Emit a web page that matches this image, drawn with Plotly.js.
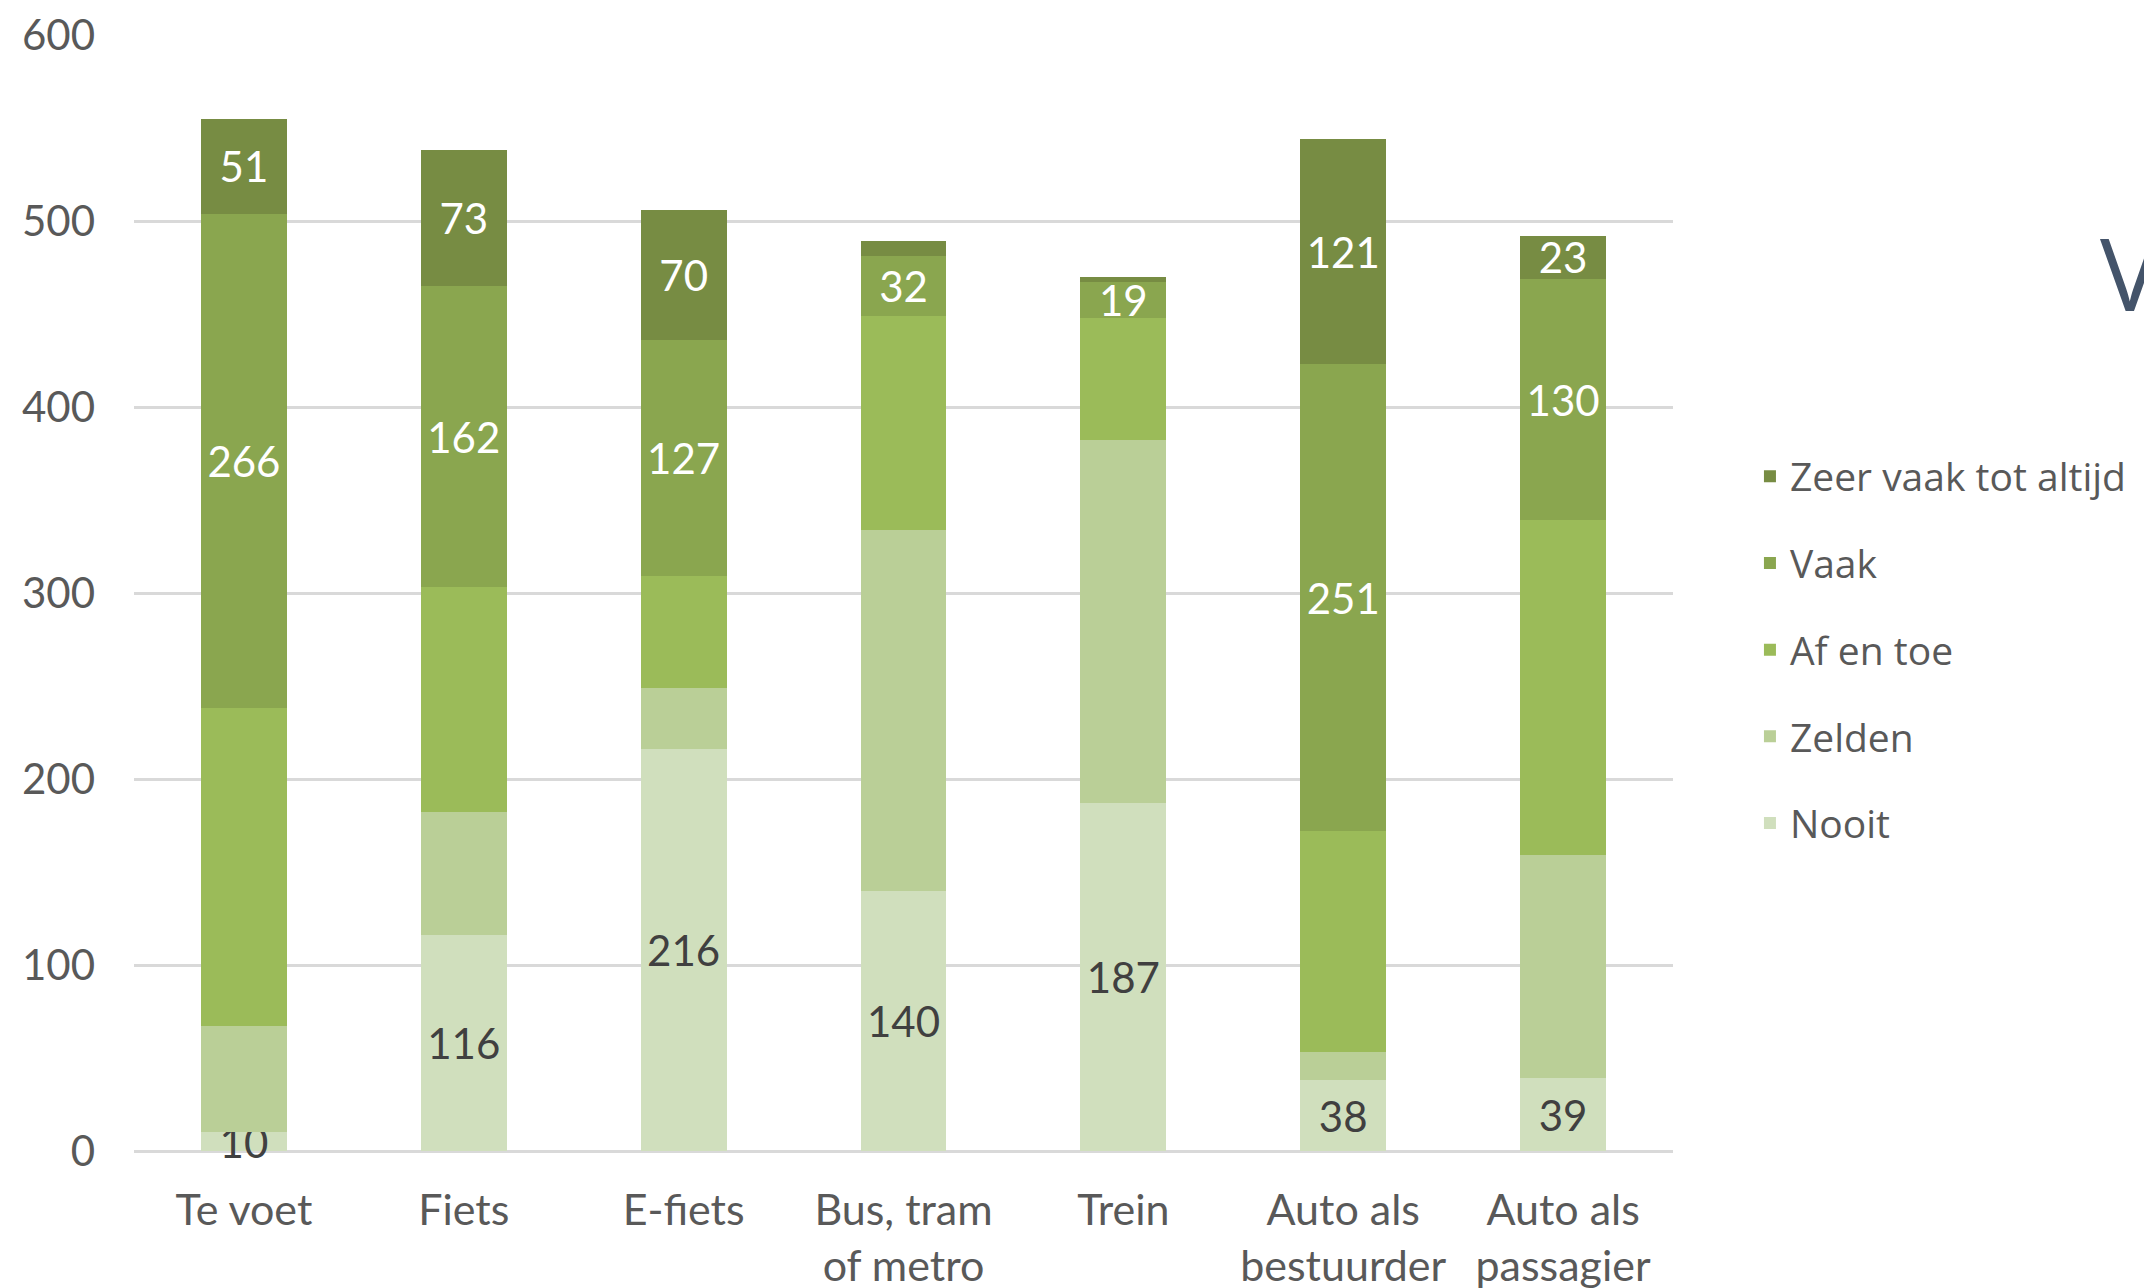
<!DOCTYPE html>
<html>
<head>
<meta charset="utf-8">
<script src="https://cdn.plot.ly/plotly-3.0.1.min.js"></script>
<style>html,body{margin:0;padding:0;background:#fff;}#chart{width:2144px;height:1288px;}</style>
</head>
<body>
<div id="chart"></div>
<script>
// Categories (x axis)
const categories = ["Te voet", "Fiets", "E-fiets", "Bus, tram<br>of metro", "Trein", "Auto als<br>bestuurder", "Auto als<br>passagier"];

// Series values (bottom to top of each stack)
const nooit      = [10, 116, 216, 140, 187, 38, 39];
const zelden     = [57, 66, 33, 194, 195, 15, 120];
const afEnToe    = [171, 121, 60, 115, 66, 119, 180];
const vaak       = [266, 162, 127, 32, 19, 251, 130];
const zeerVaak   = [51, 73, 70, 8, 3, 121, 23];

// Which segments carry a visible data label
const showNooit    = [true, true, true, true, true, true, true];
const showZelden   = [false, false, false, false, false, false, false];
const showAfEnToe  = [false, false, false, false, false, false, false];
const showVaak     = [true, true, true, true, true, true, true];
const showZeerVaak = [true, true, true, false, false, true, true];

const seriesNames = ["Nooit", "Zelden", "Af en toe", "Vaak", "Zeer vaak tot altijd"];
const seriesValues = [nooit, zelden, afEnToe, vaak, zeerVaak];
const seriesShow = [showNooit, showZelden, showAfEnToe, showVaak, showZeerVaak];
const seriesColors = ["#d0dfbd", "#bacf97", "#9bbb59", "#8aa64f", "#778c43"];
const labelColors = ["#404040", "#404040", "#ffffff", "#ffffff", "#ffffff"];

const yTicks = [0, 100, 200, 300, 400, 500, 600];

const traces = seriesNames.map((name, i) => ({
  type: "bar",
  name: name,
  legendgroup: "g" + i,
  legendrank: seriesNames.length - i,
  x: categories,
  y: seriesValues[i],
  text: seriesValues[i].map((v, j) => seriesShow[i][j] ? String(v) : ""),
  textposition: "inside",
  insidetextanchor: "middle",
  constraintext: "none",
  textangle: 0,
  cliponaxis: false,
  textfont: {family: "Lato, 'Noto Sans', sans-serif", size: 42, color: labelColors[i]},
  marker: {color: seriesColors[i], line: {width: 0}},
  hoverinfo: "x+y+name"
}));

const layout = {
  width: 2144,
  height: 1288,
  paper_bgcolor: "#ffffff",
  plot_bgcolor: "#ffffff",
  barmode: "stack",
  bargap: 0.61,
  margin: {l: 134, r: 471, t: 35, b: 137, pad: 0},
  font: {family: "Lato, 'Noto Sans', sans-serif", color: "#595959"},
  xaxis: {
    type: "category",
    tickfont: {size: 43, color: "#595959"},
    showgrid: false,
    showline: false,
    zeroline: false,
    ticks: "",
    ticklabelstandoff: 30
  },
  yaxis: {
    range: [0, 600],
    tickvals: yTicks,
    ticktext: yTicks.map(String),
    tickfont: {size: 42, color: "#595959"},
    showgrid: true,
    gridcolor: "#d9d9d9",
    gridwidth: 3,
    zeroline: true,
    zerolinecolor: "#d9d9d9",
    zerolinewidth: 3,
    showline: false,
    ticks: "",
    ticklabelstandoff: 38
  },
  legend: {
    x: 1.05,
    xanchor: "left",
    y: 0.449,
    yanchor: "middle",
    traceorder: "grouped",
    tracegroupgap: 33,
    font: {family: "'Open Sans', 'Noto Sans', sans-serif", size: 39, color: "#595959"},
    bgcolor: "rgba(0,0,0,0)",
    itemclick: false
  },
  annotations: [{
    xref: "paper", yref: "paper",
    x: 1.276, y: 0.788,
    xanchor: "left", yanchor: "middle",
    text: "V",
    showarrow: false,
    font: {family: "'Open Sans', 'Noto Sans', sans-serif", size: 100, color: "#44546a"}
  }]
};

Plotly.newPlot("chart", traces, layout, {displayModeBar: false, staticPlot: true});
</script>
</body>
</html>
